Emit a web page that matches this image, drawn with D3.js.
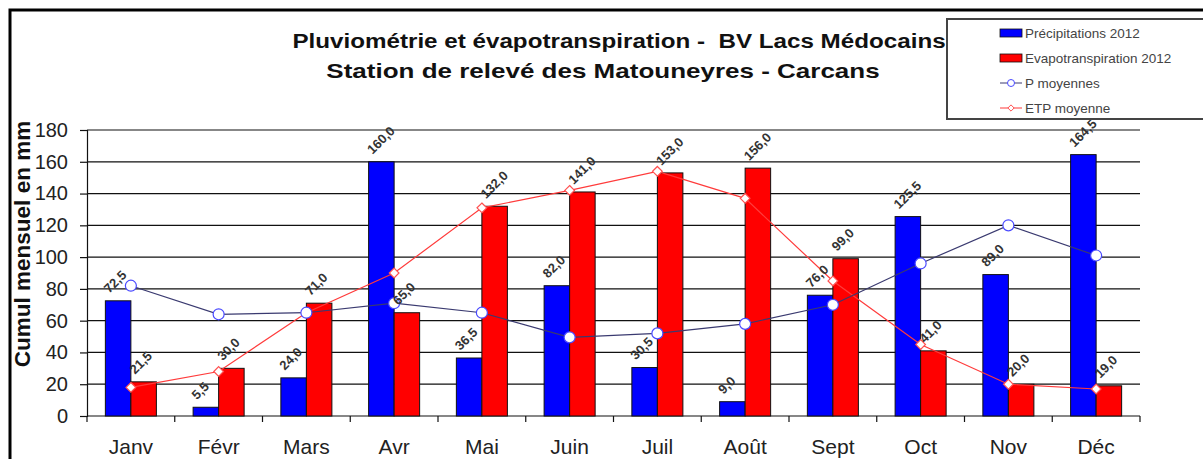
<!DOCTYPE html>
<html>
<head>
<meta charset="utf-8">
<script src="https://cdn.jsdelivr.net/npm/d3@7/dist/d3.min.js"></script>
<style>
  body { margin: 0; background: #fff; }
  svg { display: block; font-family: "Liberation Sans", Arial, sans-serif; }
</style>
</head>
<body>
<svg id="chart" width="1203" height="459"></svg>
<script>
// données
const months = ["Janv", "Févr", "Mars", "Avr", "Mai", "Juin", "Juil", "Août", "Sept", "Oct", "Nov", "Déc"];
const precip2012 = [72.5, 5.5, 24.0, 160.0, 36.5, 82.0, 30.5, 9.0, 76.0, 125.5, 89.0, 164.5];
const etp2012 = [21.5, 30.0, 71.0, 65.0, 132.0, 141.0, 153.0, 156.0, 99.0, 41.0, 20.0, 19.0];
const pMoyennes = [82, 64, 65, 71, 65, 49.5, 52, 58, 70, 96, 120, 101];
const etpMoyenne = [18, 28, 65, 90, 131, 142, 154, 137, 85, 45, 20, 17];
const yTicks = [0, 20, 40, 60, 80, 100, 120, 140, 160, 180];

const svg = d3.select("#chart");

const plotLeft = 87, plotRight = 1140, plotTop = 130, plotBottom = 416;

const x = d3.scaleBand().domain(months).range([plotLeft, plotRight]);
const xs = d3.scaleBand().domain(["p", "e"]).range([0, x.bandwidth()]).paddingOuter(0.72);
const y = d3.scaleLinear().domain([0, 180]).range([plotBottom, plotTop]);

const fmt = v => v.toFixed(1).replace(".", ",");

// cadre
svg.append("path")
    .attr("d", "M10,459 L10,10 L1203,10")
    .attr("fill", "none")
    .attr("stroke", "#000")
    .attr("stroke-width", 3);

// grille
svg.append("g").selectAll("line")
    .data(yTicks)
    .enter().append("line")
    .attr("x1", plotLeft).attr("x2", plotRight)
    .attr("y1", d => y(d)).attr("y2", d => y(d))
    .attr("stroke", "#111")
    .attr("stroke-width", 1.2);

// axe Y
const yAxis = svg.append("g")
    .attr("transform", `translate(${plotLeft},0)`)
    .call(d3.axisLeft(y).tickValues(yTicks).tickSize(7).tickPadding(12));
yAxis.select(".domain").attr("stroke", "#111").attr("stroke-width", 1.2);
yAxis.selectAll(".tick line").attr("stroke", "#111").attr("stroke-width", 1.2);
yAxis.selectAll("text")
    .attr("font-size", 20)
    .attr("font-family", "Liberation Sans, Arial, sans-serif")
    .attr("fill", "#222");

// axe X
const xAxis = svg.append("g")
    .attr("transform", `translate(0,${plotBottom})`)
    .call(d3.axisBottom(x).tickSize(0).tickPadding(23));
xAxis.select(".domain").remove();
xAxis.selectAll("text")
    .attr("font-size", 21)
    .attr("font-family", "Liberation Sans, Arial, sans-serif")
    .attr("fill", "#222");
svg.append("g").selectAll("line")
    .data(d3.range(months.length + 1))
    .enter().append("line")
    .attr("x1", i => plotLeft + i * x.step()).attr("x2", i => plotLeft + i * x.step())
    .attr("y1", plotBottom).attr("y2", plotBottom + 6)
    .attr("stroke", "#111")
    .attr("stroke-width", 1.2);

// barres
const series = [
    {key: "p", values: precip2012, color: "#0000ff"},
    {key: "e", values: etp2012, color: "#ff0000"}
];
series.forEach(s => {
    svg.append("g").selectAll("rect")
        .data(s.values)
        .enter().append("rect")
        .attr("x", (d, i) => x(months[i]) + xs(s.key))
        .attr("y", d => y(d))
        .attr("width", xs.bandwidth())
        .attr("height", d => y(0) - y(d))
        .attr("fill", s.color)
        .attr("stroke", "#111")
        .attr("stroke-width", 1);
});

// courbes moyennes
const cx = i => x(months[i]) + x.bandwidth() / 2;
const line = d3.line().x((d, i) => cx(i)).y(d => y(d));

svg.append("path")
    .datum(etpMoyenne)
    .attr("d", line)
    .attr("fill", "none")
    .attr("stroke", "#ff3b3b")
    .attr("stroke-width", 1.2);
svg.append("path")
    .datum(pMoyennes)
    .attr("d", line)
    .attr("fill", "none")
    .attr("stroke", "#3a3a70")
    .attr("stroke-width", 1.2);

svg.append("g").selectAll("path")
    .data(etpMoyenne)
    .enter().append("path")
    .attr("d", d3.symbol(d3.symbolDiamond2, 60))
    .attr("transform", (d, i) => `translate(${cx(i)},${y(d)})`)
    .attr("fill", "#fff")
    .attr("stroke", "#ff5050")
    .attr("stroke-width", 1.2);
svg.append("g").selectAll("circle")
    .data(pMoyennes)
    .enter().append("circle")
    .attr("cx", (d, i) => cx(i))
    .attr("cy", d => y(d))
    .attr("r", 5.5)
    .attr("fill", "#fff")
    .attr("stroke", "#4a4aff")
    .attr("stroke-width", 1.2);

// étiquettes des barres
series.forEach(s => {
    svg.append("g").selectAll("text")
        .data(s.values)
        .enter().append("text")
        .attr("transform", (d, i) => `translate(${x(months[i]) + xs(s.key) + 4},${y(d) - 7}) rotate(-45)`)
        .attr("font-size", 13)
        .attr("font-weight", "bold")
        .attr("fill", "#333")
        .text(d => fmt(d));
});

// titre axe Y
svg.append("text")
    .attr("transform", "translate(30,244) rotate(-90)")
    .attr("text-anchor", "middle")
    .attr("font-size", 22.5)
    .attr("font-weight", "bold")
    .attr("fill", "#111")
    .text("Cumul mensuel en mm");

// titre
const title = svg.append("g").attr("font-weight", "bold").attr("fill", "#111").attr("text-anchor", "middle");
title.append("text").attr("transform", "translate(619,48) scale(1.21,1)").attr("font-size", 20)
    .style("white-space", "pre")
    .text("Pluviométrie et évapotranspiration -  BV Lacs Médocains");
title.append("text").attr("transform", "translate(603,78) scale(1.3,1)").attr("font-size", 20)
    .text("Station de relevé des Matouneyres - Carcans");

// légende
const lg = svg.append("g");
lg.append("rect")
    .attr("x", 947).attr("y", 19).attr("width", 270).attr("height", 100)
    .attr("fill", "#fff").attr("stroke", "#444").attr("stroke-width", 2);
const legendItems = [
    {label: "Précipitations 2012", type: "rect", color: "#0000ff"},
    {label: "Evapotranspiration 2012", type: "rect", color: "#ff0000"},
    {label: "P moyennes", type: "circle", color: "#4a4aff", line: "#3a3a70"},
    {label: "ETP moyenne", type: "diamond", color: "#ff5050", line: "#ff3b3b"}
];
legendItems.forEach((it, i) => {
    const yy = 33 + i * 25;
    if (it.type === "rect") {
        lg.append("rect").attr("x", 1000).attr("y", yy - 4).attr("width", 22).attr("height", 8)
            .attr("fill", it.color).attr("stroke", "#111").attr("stroke-width", 0.8);
    } else {
        lg.append("line").attr("x1", 1000).attr("x2", 1022).attr("y1", yy).attr("y2", yy)
            .attr("stroke", it.line).attr("stroke-width", 1);
        if (it.type === "circle") {
            lg.append("circle").attr("cx", 1011).attr("cy", yy).attr("r", 3.5)
                .attr("fill", "#fff").attr("stroke", it.color);
        } else {
            lg.append("path").attr("d", d3.symbol(d3.symbolDiamond2, 25))
                .attr("transform", `translate(1011,${yy})`)
                .attr("fill", "#fff").attr("stroke", it.color);
        }
    }
    lg.append("text").attr("x", 1025).attr("y", yy + 5)
        .attr("font-size", 13.5).attr("fill", "#444").text(it.label);
});
</script>
</body>
</html>
